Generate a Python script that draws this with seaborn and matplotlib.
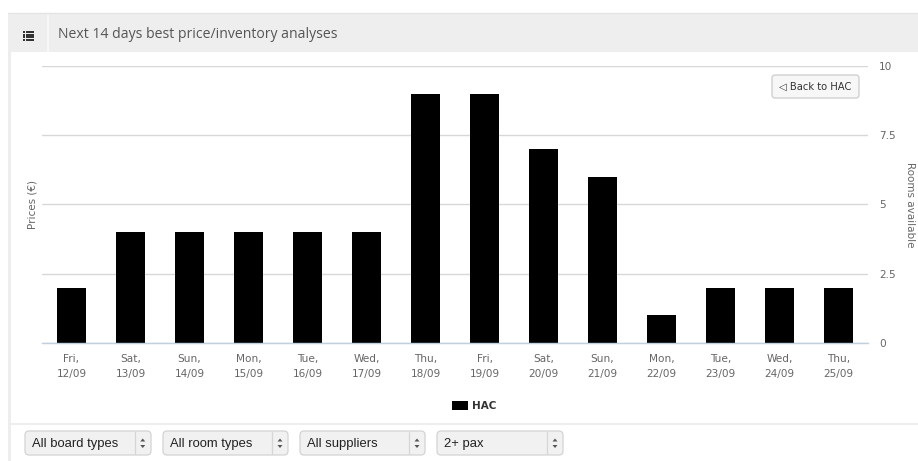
import matplotlib
matplotlib.use("Agg")
import numpy as np
import pandas as pd
import matplotlib.pyplot as plt
import seaborn as sns
from matplotlib.patches import FancyBboxPatch, Rectangle, Polygon

# ---- data -------------------------------------------------------------
days = ["Fri", "Sat", "Sun", "Mon", "Tue", "Wed", "Thu",
        "Fri", "Sat", "Sun", "Mon", "Tue", "Wed", "Thu"]
dates = ["12/09", "13/09", "14/09", "15/09", "16/09", "17/09", "18/09",
         "19/09", "20/09", "21/09", "22/09", "23/09", "24/09", "25/09"]
rooms = [2, 4, 4, 4, 4, 4, 9, 9, 7, 6, 1, 2, 2, 2]
right_ticks = [0, 2.5, 5, 7.5, 10]
right_tick_labels = ["0", "2.5", "5", "7.5", "10"]
series_name = "HAC"
filters = ["All board types", "All room types", "All suppliers", "2+ pax"]
panel_title = "Next 14 days best price/inventory analyses"
back_label = "\u25C1 Back to HAC"

# ---- style ------------------------------------------------------------
sns.set_theme(style="white")
plt.rcParams["font.family"] = ["DejaVu Sans"]

W, H = 918, 461
fig = plt.figure(figsize=(W / 100, H / 100), dpi=100)
fig.patch.set_facecolor("white")


def fx(px):
    return px / W


def fy(py):
    return 1 - py / H


GRID = "#D8D8D8"
AXIS = "#C0D0E0"
TXT = "#666666"

# ---- main chart -------------------------------------------------------
ax = fig.add_axes([fx(42), fy(343), fx(868) - fx(42), fy(66) - fy(343)])
ax.set_facecolor("none")
labels = [f"{d},\n{t}" for d, t in zip(days, dates)]
df = pd.DataFrame({"day": labels, "rooms": rooms})
sns.barplot(data=df, x="day", y="rooms", color="black", saturation=1,
            width=0.475, edgecolor="none", linewidth=0, ax=ax,
            label=series_name)
if ax.get_legend() is not None:
    ax.get_legend().remove()

ax.set_xlim(-0.5, len(labels) - 0.5)
ax.set_ylim(0, 10)
ax.set_yticks(right_ticks)
ax.yaxis.grid(True, color=GRID, linewidth=1)
ax.xaxis.grid(False)
ax.set_axisbelow(True)
ax.tick_params(axis="y", length=0, labelleft=False, labelright=False)
ax.set_xlabel("")
ax.set_ylabel("Prices (\u20ac)", color=TXT, fontsize=7.5, labelpad=3)

for side in ["top", "left", "right"]:
    ax.spines[side].set_visible(False)
ax.spines["bottom"].set_color(AXIS)
ax.spines["bottom"].set_linewidth(1)

ax.tick_params(axis="x", which="major", length=0, pad=8,
               labelsize=7.6, labelcolor=TXT)
ax.set_xticks(np.arange(-0.5, len(labels), 1), minor=True)
ax.tick_params(axis="x", which="minor", length=9, width=1, color=AXIS,
               direction="out")
for t in ax.get_xticklabels():
    t.set_linespacing(1.6)

# right-hand axis for room counts
ax2 = ax.twinx()
ax2.set_ylim(0, 10)
ax2.set_yticks(right_ticks, right_tick_labels)
ax2.tick_params(axis="y", length=0, pad=8, labelsize=7.6, labelcolor=TXT)
for s in ax2.spines.values():
    s.set_visible(False)
ax2.set_ylabel("Rooms available", rotation=-90, color=TXT, fontsize=7.5,
               labelpad=14)

# legend
handles, _ = ax.get_legend_handles_labels()
fig.legend(handles[:1], [series_name], loc="center",
           bbox_to_anchor=(fx(474), fy(406)), frameon=False,
           prop={"weight": "bold", "size": 7.5},
           handlelength=1.55, handleheight=0.9, handletextpad=0.4,
           labelcolor="#333333")

# ---- panel furniture (pixel coordinates) ------------------------------
ov = fig.add_axes([0, 0, 1, 1], zorder=5)
ov.set_xlim(0, W)
ov.set_ylim(H, 0)
ov.axis("off")
ov.patch.set_alpha(0)

# header band
ov.add_patch(Rectangle((8, 13), W - 8, 39, fc="#EEEEEE", ec="none"))
ov.plot([8, W], [13.5, 13.5], color="#E4E4E4", lw=1)
ov.plot([47.5, 47.5], [15, 52], color="#FAFAFA", lw=1.2)
# list icon
for yy in [32.2, 34.8, 37.4, 40.0]:
    ov.add_patch(Rectangle((22.5, yy - 1.0), 2.0, 2.0, fc="#333333", ec="none"))
    ov.add_patch(Rectangle((25.5, yy - 1.0), 8.5, 2.0, fc="#333333", ec="none"))
ov.text(58, 34, panel_title, fontsize=10.1, family=["Open Sans", "DejaVu Sans"],
        color="#555555", va="center", ha="left")

# left border and bottom separator
ov.add_patch(Rectangle((8, 52), 3, H - 52, fc="#EDEDED", ec="none"))
ov.plot([11, W], [424, 424], color="#EEEEEE", lw=1.5)

# back button
ov.add_patch(FancyBboxPatch((772, 75), 87, 23,
                            boxstyle="round,pad=0,rounding_size=3",
                            fc="#F7F7F7", ec="#CCCCCC", lw=0.9))
ov.text(815.5, 86.5, back_label, fontsize=7.2, color="#333333",
        ha="center", va="center")

# filter dropdowns
boxes = [(25, 151, 134.5), (163, 288, 272), (300, 425, 409), (437, 563, 547)]
for (x0, x1, sep), name in zip(boxes, filters):
    ov.add_patch(FancyBboxPatch((x0, 431), x1 - x0, 24,
                                boxstyle="round,pad=0,rounding_size=4",
                                fc="#F1F1F1", ec="#D3D3D3", lw=0.9))
    ov.plot([sep, sep], [432, 454], color="#D6D6D6", lw=0.9)
    ov.text(x0 + 7, 443.5, name, fontsize=9.4,
            family=["Liberation Sans", "DejaVu Sans"], color="#222222",
            ha="left", va="center")
    cx = (sep + x1) / 2
    ov.add_patch(Polygon([[cx - 2.5, 441.5], [cx + 2.5, 441.5], [cx, 438.5]],
                         closed=True, fc="#555555", ec="none"))
    ov.add_patch(Polygon([[cx - 2.5, 445], [cx + 2.5, 445], [cx, 448]],
                         closed=True, fc="#555555", ec="none"))

fig.savefig("out.png", dpi=100, facecolor="white")
